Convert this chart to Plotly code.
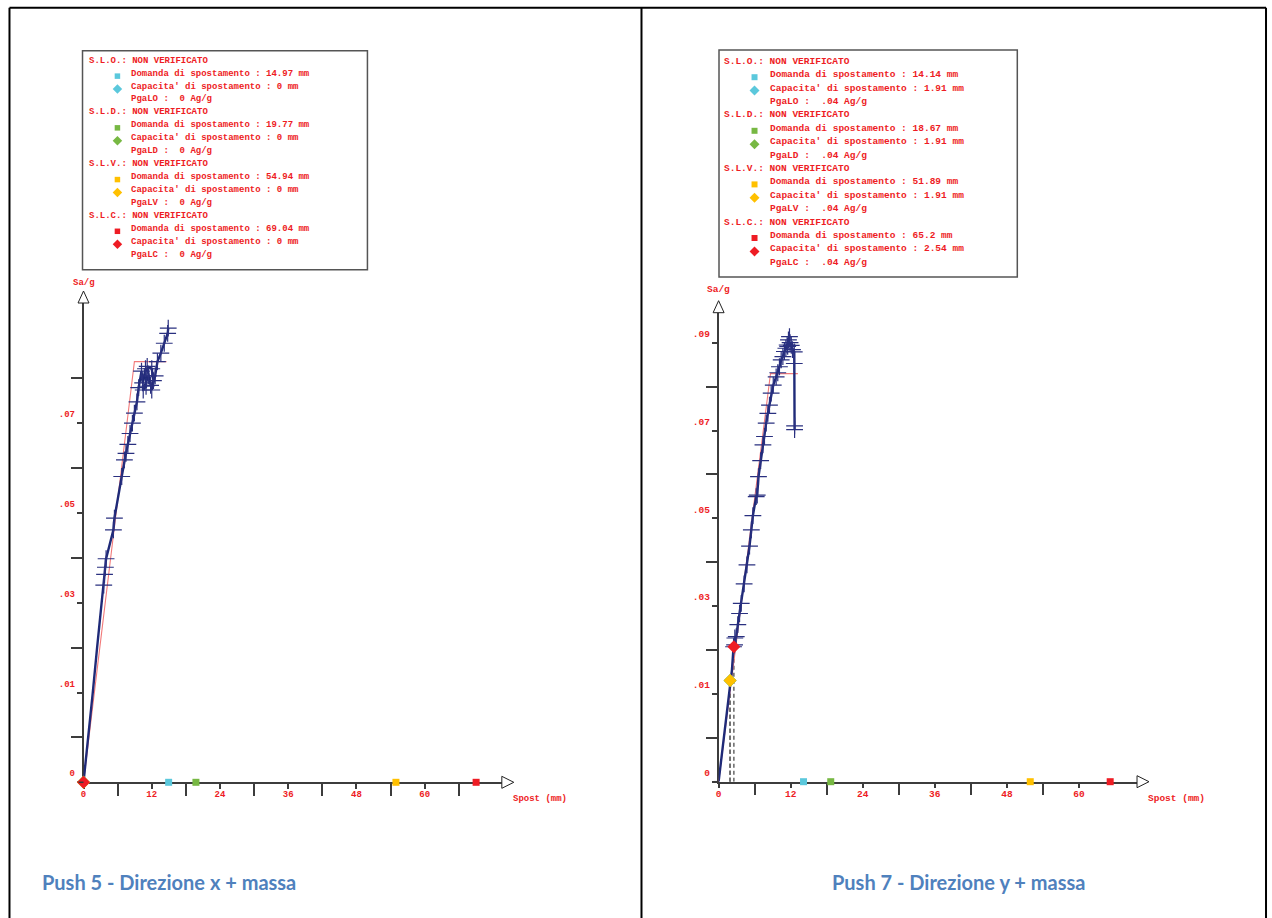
import plotly.graph_objects as go

# ---------------- DATA ----------------
TICK_STEP = 0.0095          # Sa/g between two y tick marks (labels are truncated by the source program)
x_tick_vals = [0, 12, 24, 36, 48, 60]
x_tick_text = ["0", "12", "24", "36", "48", "60"]

states = ["S.L.O.", "S.L.D.", "S.L.V.", "S.L.C."]
pga_names = ["PgaLO", "PgaLD", "PgaLV", "PgaLC"]
state_colors = ["#5bc8dc", "#77b843", "#ffc000", "#ee1c24"]

# Push 5 - direzione x
p5_curve_x = [0, 0.87, 1.63, 2.39, 3.15, 3.56, 3.70, 3.85, 3.97, 5.26, 5.44, 6.72, 7.19, 7.47, 7.8, 8.18,
              8.6, 8.95, 9.40, 9.7, 10.2, 10.4, 10.9, 11.0, 10.5, 11.4, 11.8, 11.2, 12.0, 12.3, 12.0, 12.6,
              13.0, 13.6, 14.2, 14.8, 14.9]
p5_curve_y = [0, 0.0094, 0.0190, 0.0285, 0.0377, 0.0417, 0.0440, 0.0455, 0.0473, 0.0534, 0.0559, 0.0647,
              0.0682, 0.0696, 0.0715, 0.0738, 0.0760, 0.0781, 0.0805, 0.0835, 0.0870, 0.0845, 0.0875, 0.0838,
              0.0830, 0.0860, 0.0840, 0.0880, 0.0875, 0.0850, 0.0830, 0.0860, 0.0890, 0.0908, 0.0929, 0.0950,
              0.0961]
p5_first_cross = 5
p5_bilin_x = [0, 8.95, 14.6]
p5_bilin_y = [0, 0.089, 0.089]
p5_demand = [14.97, 19.77, 54.94, 69.04]
p5_capacity = [0, 0, 0, 0]
p5_capacity_sa = [0, 0, 0, 0]
p5_pga = [0, 0, 0, 0]
p5_y_tick_text = ["0", ".01", ".03", ".05", ".07"]
p5_y_ticks = 10
p5_x_ticks_max = 66

# Push 7 - direzione y
p7_curve_x = [0, 1.94, 2.22, 2.49, 2.66, 2.70, 2.94, 3.20, 3.49, 3.77, 4.25, 4.72, 5.15, 5.45, 5.71, 6.26,
              6.43, 6.64, 7.0, 7.38, 7.64, 7.92, 8.2, 8.47, 8.75, 9.1, 9.58, 9.85, 10.13, 10.42, 10.7, 10.96,
              11.2, 11.41, 11.63, 11.8, 11.5, 11.9, 12.1, 12.3, 12.6, 12.6, 12.65, 12.65]
p7_curve_y = [0, 0.0219, 0.0242, 0.0292, 0.0296, 0.0311, 0.0314, 0.0340, 0.0364, 0.0386, 0.0428, 0.0469,
              0.0510, 0.0545, 0.0576, 0.0617, 0.0620, 0.0660, 0.0695, 0.0729, 0.0747, 0.0776, 0.0797, 0.0815,
              0.0841, 0.0858, 0.0876, 0.0885, 0.0898, 0.0913, 0.0920, 0.0931, 0.0938, 0.0945, 0.0956, 0.0963,
              0.0942, 0.0950, 0.0944, 0.0935, 0.0930, 0.0905, 0.0770, 0.0762]
p7_first_cross = 3
p7_bilin_x = [0, 8.64, 13.2]
p7_bilin_y = [0, 0.0883, 0.0883]
p7_demand = [14.14, 18.67, 51.89, 65.2]
p7_capacity = [1.91, 1.91, 1.91, 2.54]
p7_capacity_sa = [0.0219, 0.0219, 0.0219, 0.0292]
p7_pga = [0.04, 0.04, 0.04, 0.04]
p7_y_tick_text = ["0", ".01", ".03", ".05", ".07", ".09"]
p7_y_ticks = 11
p7_x_ticks_max = 60

captions = ["Push 5 - Direzione x + massa", "Push 7 - Direzione y + massa"]

# ---------------- LAYOUT HELPERS ----------------
W, H = 1272, 918
RED = "#ee1c24"
NAVY = "#1f2a78"
AXC = "#3c3c3c"
MONO = "Liberation Mono"


def fx(p):
    return p / W


def fy(p):
    return 1 - p / H


def fmt(v):
    s = f"{v:g}"
    if s.startswith("0."):
        s = s[1:]
    return s


NB = "\u00a0"

panels = [
    dict(curve_x=p5_curve_x, curve_y=p5_curve_y, first_cross=p5_first_cross,
         bx=p5_bilin_x, by=p5_bilin_y, demand=p5_demand, cap=p5_capacity, cap_sa=p5_capacity_sa,
         pga=p5_pga, ytext=p5_y_tick_text, nyt=p5_y_ticks, xmax=p5_x_ticks_max,
         x0=80.7, x1=500.0, ppmm=5.7, y0=782.3, y1=303.0, ppt=44.9, fs=9,
         box=(79.7, 50.7, 365.3, 269.7), row0=60.7, rowstep=12.93, hx=84.0, ix=126.5, mx=114.7,
         sq=5.5, dm=9.5, sagx=80.7, sagy=283, spx=538, spy=798.5,
         cap_text=dict(x=37, anchor="left")),
    dict(curve_x=p7_curve_x, curve_y=p7_curve_y, first_cross=p7_first_cross,
         bx=p7_bilin_x, by=p7_bilin_y, demand=p7_demand, cap=p7_capacity, cap_sa=p7_capacity_sa,
         pga=p7_pga, ytext=p7_y_tick_text, nyt=p7_y_ticks, xmax=p7_x_ticks_max,
         x0=717.3, x1=1136.7, ppmm=6.02, y0=781.7, y1=312.7, ppt=43.9, fs=9.5,
         box=(717.7, 50.0, 1016.7, 277.0), row0=61.3, rowstep=13.4, hx=721.0, ix=767.0, mx=753.3,
         sq=6, dm=10, sagx=717.5, sagy=289, spx=1176, spy=798.5,
         cap_text=dict(x=958, anchor="center")),
]

fig = go.Figure()
shapes = []
annotations = []
layout_axes = {}

for k, P in enumerate(panels):
    n = "" if k == 0 else str(k + 1)
    xa, ya = "x" + n, "y" + n

    # dashed lines to capacity points
    for c, s in zip(P["cap"], P["cap_sa"]):
        if c > 0:
            fig.add_trace(go.Scatter(x=[c, c], y=[0, s], xaxis=xa, yaxis=ya, mode="lines",
                                     line=dict(color="#707070", width=1.6, dash="4px,3px"),
                                     showlegend=False, hoverinfo="skip"))
    # bilinear
    fig.add_trace(go.Scatter(x=P["bx"], y=P["by"], xaxis=xa, yaxis=ya, mode="lines",
                             line=dict(color="#f27a7a", width=1.1), showlegend=False))
    # capacity curve
    fig.add_trace(go.Scatter(x=P["curve_x"], y=P["curve_y"], xaxis=xa, yaxis=ya, mode="lines",
                             line=dict(color=NAVY, width=2.4), showlegend=False))
    fc = P["first_cross"]
    fig.add_trace(go.Scatter(x=P["curve_x"][fc:], y=P["curve_y"][fc:], xaxis=xa, yaxis=ya, mode="markers",
                             marker=dict(symbol="cross-thin", size=12, line=dict(color="#2a3080", width=1.2)),
                             showlegend=False))
    # demand squares on the axis
    fig.add_trace(go.Scatter(x=P["demand"], y=[0] * len(P["demand"]), xaxis=xa, yaxis=ya, mode="markers",
                             marker=dict(symbol="square", size=7, color=state_colors),
                             cliponaxis=False, showlegend=False))
    # capacity diamonds
    fig.add_trace(go.Scatter(x=P["cap"], y=P["cap_sa"], xaxis=xa, yaxis=ya, mode="markers",
                             marker=dict(symbol="diamond", size=10, color=state_colors),
                             cliponaxis=False, showlegend=False))

    xr = (P["x1"] - P["x0"]) / P["ppmm"]
    yr = (P["y0"] - P["y1"]) / P["ppt"] * TICK_STEP
    major_x = x_tick_vals
    minor_x = [v for v in range(6, P["xmax"] + 1, 12)]
    major_y = [i * TICK_STEP for i in range(0, P["nyt"], 2)][:len(P["ytext"])]
    minor_y = [i * TICK_STEP for i in range(1, P["nyt"], 2)]
    tf = dict(family=MONO, size=P["fs"], color=RED, weight="bold")

    layout_axes["xaxis" + n] = dict(
        domain=[fx(P["x0"]), fx(P["x1"])], range=[0, xr], anchor=ya,
        showline=True, linecolor=AXC, linewidth=1.5, showgrid=False, zeroline=False,
        ticks="outside", ticklen=5, tickwidth=1.5, tickcolor=AXC,
        tickvals=major_x, ticktext=x_tick_text, tickfont=tf, ticklabelstandoff=-3,
        minor=dict(tickvals=minor_x, ticks="outside", ticklen=12, tickwidth=1.5, tickcolor=AXC, showgrid=False),
        layer="below traces", fixedrange=True)
    layout_axes["yaxis" + n] = dict(
        domain=[fy(P["y0"]), fy(P["y1"])], range=[0, yr], anchor=xa,
        showline=True, linecolor=AXC, linewidth=1.5, showgrid=False, zeroline=False,
        ticks="outside", ticklen=5, tickwidth=1.5, tickcolor=AXC,
        tickvals=major_y, ticktext=P["ytext"], tickfont=tf, ticklabelshift=-9,
        minor=dict(tickvals=minor_y, ticks="outside", ticklen=11, tickwidth=1.5, tickcolor=AXC, showgrid=False),
        layer="below traces", fixedrange=True)

    # axis arrows (open triangles)
    ax, ay = P["x0"], P["y1"]
    shapes.append(dict(type="path", xref="paper", yref="paper",
                       path=f"M {fx(ax)},{fy(ay - 12)} L {fx(ax - 5.5)},{fy(ay)} L {fx(ax + 5.5)},{fy(ay)} Z",
                       line=dict(color="#222", width=1), fillcolor="white", layer="above"))
    bx_, by_ = P["x1"], P["y0"]
    shapes.append(dict(type="path", xref="paper", yref="paper",
                       path=f"M {fx(bx_ + 12)},{fy(by_)} L {fx(bx_)},{fy(by_ - 6)} L {fx(bx_)},{fy(by_ + 6)} Z",
                       line=dict(color="#222", width=1), fillcolor="white", layer="above"))
    # small extension of x axis to the left of the y axis
    shapes.append(dict(type="line", xref="paper", yref="paper", x0=fx(P["x0"] - 5), x1=fx(P["x0"]),
                       y0=fy(P["y0"]), y1=fy(P["y0"]), line=dict(color=AXC, width=1.5)))

    # axis titles
    annotations.append(dict(text="Sa/g", x=fx(P["sagx"]), y=fy(P["sagy"]), xref="paper", yref="paper",
                            showarrow=False, xanchor="center", yanchor="middle",
                            font=dict(family=MONO, size=P["fs"], color=RED, weight="bold")))
    annotations.append(dict(text="Spost" + NB + "(mm)", x=fx(P["spx"]), y=fy(P["spy"]), xref="paper",
                            yref="paper", showarrow=False, xanchor="center", yanchor="middle",
                            font=dict(family=MONO, size=P["fs"], color=RED, weight="bold")))

    # legend box
    bl, bt, br, bb = P["box"]
    shapes.append(dict(type="rect", xref="paper", yref="paper", x0=fx(bl), x1=fx(br), y0=fy(bb), y1=fy(bt),
                       line=dict(color="#555", width=1.5), fillcolor="white", layer="below"))
    lf = dict(family=MONO, size=P["fs"], color=RED, weight="bold")
    for i, st in enumerate(states):
        lines = [
            (P["hx"], f"{st}:{NB}NON{NB}VERIFICATO"),
            (P["ix"], f"Domanda{NB}di{NB}spostamento{NB}:{NB}{fmt(P['demand'][i])}{NB}mm"),
            (P["ix"], f"Capacita'{NB}di{NB}spostamento{NB}:{NB}{fmt(P['cap'][i])}{NB}mm"),
            (P["ix"], f"{pga_names[i]}{NB}:{NB}{NB}{fmt(P['pga'][i])}{NB}Ag/g"),
        ]
        for j, (lx, txt) in enumerate(lines):
            ry = P["row0"] + (4 * i + j) * P["rowstep"]
            annotations.append(dict(text=txt, x=fx(lx), y=fy(ry), xref="paper", yref="paper",
                                    showarrow=False, xanchor="left", yanchor="middle", font=lf))
        # legend swatches
        sy = P["row0"] + (4 * i + 1) * P["rowstep"] + 2.5
        h = P["sq"] / 2
        shapes.append(dict(type="rect", xref="paper", yref="paper", x0=fx(P["mx"] - h), x1=fx(P["mx"] + h),
                           y0=fy(sy + h), y1=fy(sy - h), line=dict(width=0), fillcolor=state_colors[i]))
        dy = P["row0"] + (4 * i + 2) * P["rowstep"] + 2.5
        r = P["dm"] / 2
        shapes.append(dict(type="path", xref="paper", yref="paper",
                           path=(f"M {fx(P['mx'])},{fy(dy - r)} L {fx(P['mx'] + r)},{fy(dy)} "
                                 f"L {fx(P['mx'])},{fy(dy + r)} L {fx(P['mx'] - r)},{fy(dy)} Z"),
                           line=dict(width=0), fillcolor=state_colors[i]))

    # caption
    annotations.append(dict(text="<b>" + captions[k] + "</b>", x=fx(P["cap_text"]["x"]), y=fy(882),
                            xref="paper", yref="paper", showarrow=False,
                            xanchor=P["cap_text"]["anchor"], yanchor="middle",
                            font=dict(family="Lato", size=20, color="#4f81bd")))

# page frame (kept inside the paper so the page does not grow)
for x0, y0, x1, y1 in [(6.5, 7.8, 1266, 7.8), (6.5, 7.8, 6.5, 918), (640, 7.8, 640, 918), (1266, 7.8, 1266, 918)]:
    shapes.append(dict(type="line", xref="paper", yref="paper", x0=fx(x0), x1=fx(x1), y0=fy(y0), y1=fy(y1),
                       line=dict(color="black", width=2), layer="below"))

fig.update_layout(
    width=W, height=H, margin=dict(l=0, r=0, t=0, b=0),
    paper_bgcolor="white", plot_bgcolor="rgba(0,0,0,0)",
    showlegend=False, shapes=shapes, annotations=annotations, **layout_axes)

fig.write_html("out.html", config={"displayModeBar": False},
               post_script="document.body.style.margin='0px';document.documentElement.style.overflow='hidden';")
